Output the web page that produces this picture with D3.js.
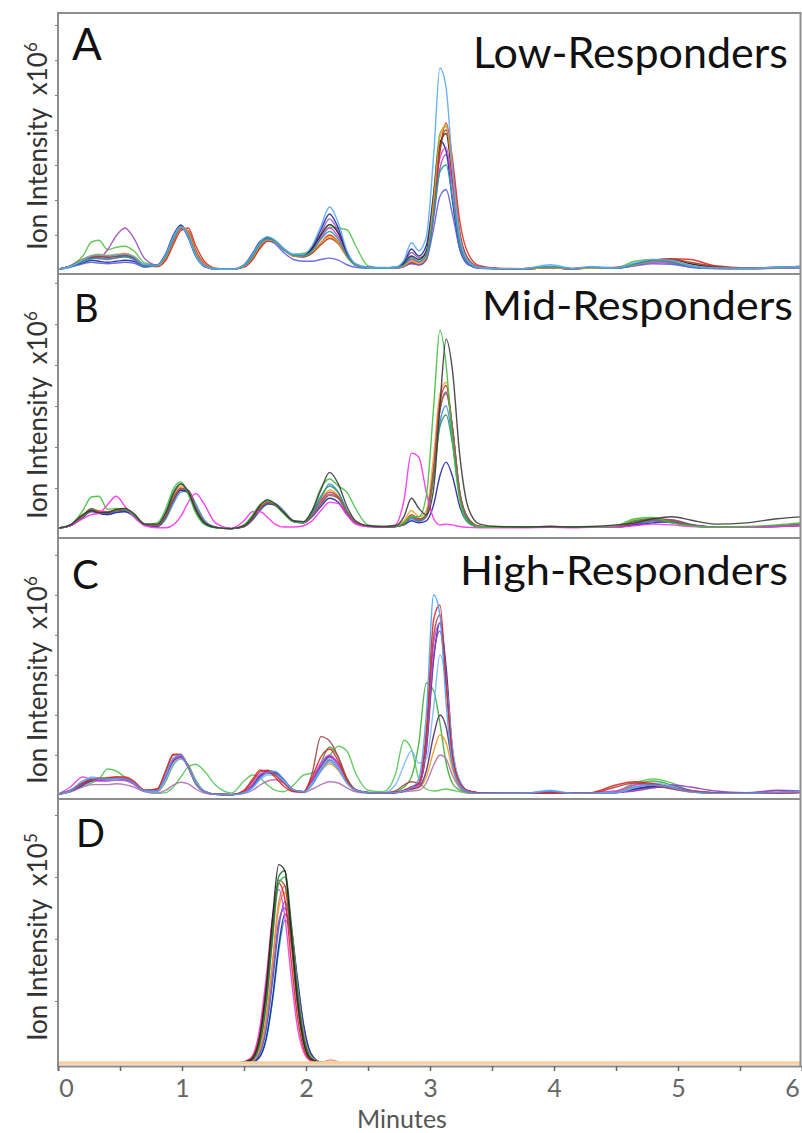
<!DOCTYPE html>
<html>
<head>
<meta charset="utf-8">
<script src="https://cdn.jsdelivr.net/npm/d3@7/dist/d3.min.js"></script>
<style>
 html,body{margin:0;padding:0;background:#fff;}
 svg{display:block;}
 text{font-family:Lato,"Open Sans",sans-serif;}
</style>
</head>
<body>
<svg id="chart" width="802" height="1133"></svg>
<script>
// ---------------- DATA ----------------
const panelLetters = ["A", "B", "C", "D"];
const panelTitles = ["Low-Responders", "Mid-Responders", "High-Responders", ""];
const yLabelText = "Ion Intensity  x10";
const yExponents = ["6", "6", "6", "5"];
const xLabel = "Minutes";
const xTicks = [0, 0.5, 1, 1.5, 2, 2.5, 3, 3.5, 4, 4.5, 5, 5.5, 6];
const xTickLabels = ["0", "", "1", "", "2", "", "3", "", "4", "", "5", "", "6"];

// retention times (minutes) shared by the traces of panels A-C
const timeABC = [0.00,0.10,0.20,0.27,0.33,0.40,0.47,0.54,0.61,0.70,0.80,
 0.87,0.93,0.99,1.05,1.11,1.18,1.27,1.40,
 1.50,1.57,1.63,1.69,1.75,1.82,1.90,1.98,
 2.05,2.12,2.19,2.26,2.33,2.40,2.50,
 2.62,2.72,2.79,2.85,2.91,2.97,3.03,3.08,3.13,3.18,3.24,3.31,3.40,
 3.55,3.75,3.97,4.15,4.30,4.50,4.65,4.80,4.95,5.10,5.30,5.55,5.80,6.00];
// retention times for panel D
const timeD = [0, 1.45, 1.55, 1.62, 1.68, 1.73, 1.78, 1.83, 1.88, 1.93, 1.98, 2.04, 2.12, 2.20, 2.30, 6.0];

// ---- Panel A: Low-Responders (intensity, x10^6 tick units) ----
const A1 = [0.02,0.10,0.28,0.40,0.42,0.40,0.42,0.45,0.38,0.16,0.14,
 0.45,0.95,1.25,0.95,0.42,0.12,0.03,0.02,
 0.15,0.45,0.80,0.95,0.85,0.62,0.45,0.45,
 0.70,1.25,1.80,1.35,0.55,0.18,0.08,
 0.07,0.08,0.28,0.78,0.55,0.95,3.30,5.77,5.20,3.00,0.95,0.25,0.07,
 0.04,0.04,0.15,0.05,0.10,0.06,0.20,0.30,0.28,0.12,0.06,0.05,0.08,0.10];
const A2 = [0.02,0.10,0.25,0.38,0.40,0.38,0.40,0.42,0.35,0.12,0.10,
 0.28,0.72,1.12,1.20,0.70,0.25,0.05,0.02,
 0.08,0.30,0.62,0.82,0.80,0.60,0.40,0.38,
 0.50,0.78,1.00,0.80,0.40,0.15,0.07,
 0.05,0.05,0.10,0.20,0.15,0.30,1.60,3.40,4.20,3.20,1.40,0.45,0.12,
 0.05,0.04,0.06,0.04,0.06,0.08,0.15,0.28,0.32,0.30,0.12,0.06,0.08,0.10];
const A3 = [0.02,0.12,0.40,0.80,0.85,0.58,0.65,0.68,0.55,0.20,0.14,
 0.38,0.88,1.22,1.05,0.50,0.15,0.04,0.02,
 0.10,0.38,0.72,0.88,0.82,0.60,0.45,0.48,
 0.58,0.95,1.22,1.20,1.15,0.70,0.12,
 0.06,0.07,0.15,0.30,0.22,0.45,2.20,3.90,4.10,2.60,0.80,0.20,0.06,
 0.04,0.04,0.08,0.04,0.06,0.06,0.25,0.30,0.20,0.10,0.05,0.05,0.08,0.10];
const A4 = [0.02,0.10,0.25,0.35,0.35,0.58,0.98,1.20,0.92,0.32,0.14,
 0.40,0.90,1.25,0.98,0.45,0.13,0.03,0.02,
 0.12,0.42,0.78,0.90,0.82,0.60,0.42,0.42,
 0.62,1.05,1.46,1.10,0.48,0.15,0.07,
 0.06,0.07,0.20,0.50,0.35,0.45,1.50,2.90,3.30,2.50,1.00,0.30,0.08,
 0.04,0.04,0.06,0.04,0.06,0.06,0.18,0.25,0.22,0.10,0.05,0.04,0.06,0.08];
const A5 = [0.02,0.10,0.20,0.28,0.25,0.22,0.25,0.28,0.25,0.10,0.14,
 0.48,1.00,1.28,0.92,0.40,0.10,0.03,0.02,
 0.15,0.48,0.82,0.92,0.80,0.58,0.42,0.40,
 0.65,1.15,1.60,1.20,0.50,0.15,0.07,
 0.06,0.07,0.22,0.60,0.40,0.70,2.20,3.70,3.40,2.00,0.60,0.15,0.05,
 0.04,0.04,0.06,0.04,0.05,0.05,0.15,0.25,0.25,0.12,0.05,0.04,0.06,0.08];
const A6 = [0.02,0.12,0.30,0.40,0.42,0.40,0.42,0.45,0.38,0.14,0.14,
 0.42,0.92,1.28,1.00,0.45,0.12,0.03,0.02,
 0.12,0.42,0.78,0.92,0.84,0.60,0.42,0.42,
 0.60,1.00,1.30,1.05,0.45,0.15,0.07,
 0.06,0.07,0.18,0.40,0.30,0.55,2.00,3.60,3.90,2.60,0.90,0.25,0.07,
 0.04,0.04,0.06,0.04,0.06,0.06,0.16,0.28,0.30,0.18,0.08,0.05,0.07,0.09];
const A7 = [0.02,0.10,0.28,0.35,0.32,0.30,0.34,0.38,0.30,0.10,0.13,
 0.40,0.90,1.25,1.02,0.48,0.14,0.03,0.02,
 0.10,0.38,0.72,0.88,0.80,0.58,0.40,0.38,
 0.55,0.92,1.20,0.95,0.42,0.14,0.06,
 0.05,0.06,0.14,0.30,0.22,0.40,1.80,3.20,3.50,2.40,0.80,0.20,0.06,
 0.04,0.04,0.05,0.04,0.05,0.05,0.12,0.22,0.18,0.08,0.04,0.04,0.05,0.07];
const A8 = [0.02,0.10,0.26,0.36,0.38,0.36,0.38,0.40,0.34,0.12,0.10,
 0.32,0.80,1.18,1.12,0.58,0.18,0.04,0.02,
 0.08,0.32,0.66,0.85,0.82,0.60,0.40,0.38,
 0.48,0.72,0.90,0.75,0.38,0.14,0.06,
 0.05,0.06,0.10,0.22,0.16,0.30,1.70,3.40,4.00,2.90,1.10,0.30,0.08,
 0.04,0.04,0.05,0.04,0.05,0.06,0.14,0.26,0.30,0.22,0.10,0.05,0.06,0.08];
const A9 = [0.02,0.08,0.18,0.22,0.20,0.18,0.20,0.22,0.20,0.08,0.13,
 0.42,0.92,1.22,0.95,0.42,0.12,0.03,0.02,
 0.10,0.38,0.70,0.85,0.75,0.50,0.30,0.25,
 0.25,0.30,0.34,0.28,0.15,0.08,0.05,
 0.05,0.06,0.10,0.18,0.14,0.30,1.20,2.10,2.30,1.60,0.60,0.15,0.05,
 0.04,0.04,0.05,0.04,0.05,0.05,0.12,0.18,0.16,0.08,0.04,0.04,0.05,0.06];
const A10 = [0.02,0.10,0.30,0.42,0.45,0.42,0.45,0.48,0.40,0.14,0.12,
 0.36,0.85,1.22,1.08,0.52,0.16,0.04,0.02,
 0.10,0.36,0.70,0.86,0.80,0.58,0.40,0.40,
 0.52,0.78,0.95,0.78,0.38,0.14,0.06,
 0.05,0.06,0.12,0.25,0.18,0.38,2.00,3.80,4.15,2.80,0.95,0.25,0.07,
 0.04,0.04,0.06,0.04,0.05,0.06,0.14,0.25,0.24,0.12,0.05,0.04,0.06,0.08];
const A11 = [0.02,0.10,0.24,0.32,0.34,0.32,0.35,0.38,0.32,0.12,0.13,
 0.40,0.88,1.24,1.00,0.46,0.13,0.03,0.02,
 0.12,0.40,0.75,0.90,0.82,0.58,0.42,0.40,
 0.55,0.88,1.10,0.88,0.40,0.14,0.06,
 0.05,0.06,0.15,0.35,0.25,0.42,1.60,2.80,3.00,2.10,0.75,0.20,0.06,
 0.04,0.04,0.10,0.04,0.08,0.05,0.16,0.26,0.22,0.10,0.05,0.04,0.07,0.09];
const seriesA = [A2, A3, A4, A5, A6, A7, A8, A9, A10, A11, A1];
const colorsA = ["#e8271f", "#55c24a", "#9b4fb8", "#1f2a9e", "#222222", "#e040d8", "#a33a2a", "#5d5fe0", "#f0a020", "#1aa0a0", "#5aaaf5"];

// ---- Panel B: Mid-Responders ----
const B1 = [0.02,0.10,0.45,0.78,0.80,0.48,0.50,0.48,0.35,0.12,0.15,
 0.50,0.98,1.15,0.85,0.40,0.12,0.03,0.01,
 0.10,0.35,0.60,0.71,0.60,0.38,0.18,0.16,
 0.45,1.00,1.22,1.05,0.90,0.50,0.10,
 0.06,0.07,0.15,0.30,0.30,0.80,3.00,4.85,4.00,2.20,0.70,0.15,0.05,
 0.04,0.04,0.06,0.05,0.05,0.08,0.25,0.28,0.15,0.08,0.05,0.06,0.10,0.15];
const B2 = [0.02,0.10,0.35,0.45,0.40,0.40,0.48,0.50,0.38,0.12,0.12,
 0.40,0.85,1.10,0.92,0.48,0.15,0.04,0.01,
 0.08,0.30,0.58,0.71,0.62,0.40,0.20,0.18,
 0.45,0.95,1.38,1.10,0.55,0.20,0.08,
 0.06,0.08,0.30,0.75,0.50,0.35,1.00,3.00,4.63,3.90,1.80,0.50,0.12,
 0.06,0.05,0.06,0.05,0.06,0.10,0.15,0.25,0.30,0.22,0.12,0.15,0.25,0.30];
const B3 = [0.02,0.10,0.35,0.50,0.42,0.40,0.46,0.48,0.36,0.12,0.10,
 0.38,0.82,1.05,0.90,0.48,0.15,0.04,0.01,
 0.08,0.30,0.55,0.66,0.58,0.38,0.18,0.16,
 0.40,0.72,0.95,0.80,0.40,0.15,0.07,
 0.05,0.07,0.20,0.45,0.30,0.45,1.80,3.30,3.58,2.40,0.80,0.20,0.06,
 0.04,0.04,0.06,0.04,0.05,0.07,0.22,0.25,0.18,0.10,0.05,0.05,0.08,0.12];
const B4 = [0.02,0.10,0.32,0.48,0.44,0.42,0.46,0.46,0.35,0.12,0.08,
 0.32,0.75,1.00,0.92,0.52,0.17,0.04,0.01,
 0.08,0.28,0.52,0.64,0.60,0.40,0.18,0.16,
 0.38,0.68,0.90,0.78,0.40,0.15,0.07,
 0.05,0.06,0.15,0.35,0.25,0.35,1.50,3.10,3.50,2.50,0.90,0.25,0.06,
 0.04,0.04,0.05,0.04,0.05,0.06,0.18,0.25,0.22,0.10,0.05,0.05,0.07,0.10];
const B5 = [0.02,0.08,0.30,0.42,0.40,0.38,0.42,0.44,0.34,0.10,0.08,
 0.30,0.70,0.95,0.90,0.52,0.17,0.04,0.01,
 0.06,0.25,0.50,0.62,0.58,0.40,0.18,0.15,
 0.35,0.62,0.85,0.75,0.40,0.15,0.07,
 0.05,0.06,0.12,0.28,0.20,0.30,1.40,2.90,3.34,2.50,0.90,0.25,0.06,
 0.04,0.04,0.05,0.04,0.05,0.05,0.12,0.20,0.22,0.12,0.05,0.05,0.07,0.10];
const B6 = [0.02,0.08,0.25,0.35,0.38,0.60,0.80,0.55,0.30,0.08,0.03,
 0.03,0.10,0.30,0.65,0.87,0.60,0.15,0.02,
 0.20,0.42,0.42,0.28,0.12,0.05,0.05,0.08,
 0.20,0.45,0.65,0.62,0.35,0.12,0.06,
 0.05,0.10,0.70,1.85,1.75,0.90,0.25,0.10,0.12,0.10,0.06,0.04,0.03,
 0.03,0.03,0.04,0.03,0.04,0.04,0.08,0.12,0.10,0.06,0.04,0.04,0.06,0.08];
const B7 = [0.02,0.08,0.30,0.50,0.40,0.35,0.42,0.45,0.32,0.10,0.06,
 0.25,0.62,0.90,0.93,0.62,0.22,0.05,0.01,
 0.06,0.22,0.45,0.60,0.62,0.45,0.20,0.16,
 0.38,0.75,1.10,0.90,0.45,0.16,0.07,
 0.05,0.06,0.12,0.25,0.18,0.30,1.30,2.60,3.00,2.20,0.80,0.20,0.05,
 0.04,0.04,0.05,0.04,0.05,0.05,0.10,0.18,0.15,0.08,0.05,0.05,0.06,0.10];
const B8 = [0.02,0.08,0.28,0.45,0.38,0.35,0.40,0.42,0.32,0.10,0.06,
 0.30,0.70,0.95,0.88,0.50,0.16,0.04,0.01,
 0.06,0.24,0.48,0.62,0.58,0.40,0.18,0.15,
 0.30,0.55,0.75,0.65,0.35,0.14,0.06,
 0.05,0.06,0.10,0.20,0.15,0.20,0.60,1.30,1.63,1.30,0.55,0.15,0.05,
 0.04,0.04,0.05,0.04,0.05,0.05,0.10,0.15,0.18,0.10,0.05,0.05,0.06,0.08];
const B9 = [0.02,0.10,0.30,0.45,0.40,0.40,0.45,0.46,0.35,0.12,0.10,
 0.42,0.90,1.10,0.88,0.42,0.12,0.03,0.01,
 0.08,0.32,0.58,0.68,0.60,0.38,0.18,0.16,
 0.42,0.80,1.05,0.88,0.45,0.15,0.07,
 0.05,0.06,0.15,0.32,0.22,0.35,1.30,2.50,2.78,2.10,0.80,0.20,0.06,
 0.04,0.04,0.06,0.04,0.05,0.06,0.20,0.24,0.16,0.08,0.05,0.05,0.08,0.12];
const B10 = [0.02,0.09,0.32,0.48,0.42,0.40,0.45,0.46,0.35,0.12,0.08,
 0.30,0.72,0.98,0.95,0.55,0.18,0.04,0.01,
 0.06,0.25,0.50,0.64,0.60,0.42,0.20,0.16,
 0.32,0.60,0.82,0.75,0.42,0.16,0.07,
 0.05,0.06,0.12,0.30,0.22,0.32,1.40,2.90,3.30,2.50,0.90,0.25,0.06,
 0.04,0.04,0.05,0.04,0.05,0.06,0.14,0.22,0.20,0.10,0.05,0.05,0.07,0.10];
const seriesB = [B3, B4, B5, B7, B8, B9, B10, B6, B1, B2];
const colorsB = ["#f5a030", "#d62b2b", "#7e4fb5", "#3a8ae6", "#2424a8", "#2e9a5e", "#a0603a", "#ff30f0", "#3fbf3f", "#3a3a3a"];

// ---- Panel C: High-Responders ----
const C1 = [0.02,0.12,0.35,0.42,0.40,0.40,0.42,0.40,0.30,0.10,0.10,
 0.50,0.92,1.00,0.70,0.30,0.08,0.02,0.01,
 0.05,0.20,0.42,0.56,0.58,0.40,0.12,0.08,
 0.25,0.60,0.83,0.65,0.30,0.12,0.06,
 0.05,0.06,0.10,0.18,0.40,2.00,5.00,4.50,2.30,0.80,0.25,0.08,0.04,
 0.04,0.04,0.10,0.04,0.05,0.06,0.20,0.25,0.18,0.08,0.04,0.04,0.06,0.08];
const C2 = [0.02,0.10,0.30,0.45,0.42,0.38,0.40,0.42,0.32,0.10,0.08,
 0.40,0.78,0.90,0.72,0.35,0.10,0.02,0.01,
 0.05,0.18,0.38,0.50,0.50,0.35,0.12,0.08,
 0.30,0.65,0.90,0.70,0.32,0.12,0.06,
 0.05,0.25,0.75,1.10,0.80,0.90,2.20,3.50,2.80,1.20,0.35,0.10,0.04,
 0.04,0.04,0.12,0.04,0.05,0.06,0.18,0.30,0.22,0.10,0.05,0.04,0.06,0.08];
const C3 = [0.02,0.12,0.30,0.38,0.40,0.42,0.45,0.45,0.35,0.12,0.15,
 0.60,1.00,1.02,0.70,0.30,0.08,0.02,0.01,
 0.12,0.40,0.62,0.60,0.45,0.22,0.08,0.08,
 0.45,0.95,1.15,0.85,0.38,0.12,0.06,
 0.05,0.06,0.12,0.20,0.30,1.60,4.40,4.75,2.80,1.00,0.30,0.10,0.05,
 0.04,0.04,0.06,0.04,0.06,0.25,0.33,0.28,0.18,0.10,0.05,0.04,0.05,0.06];
const C4 = [0.02,0.10,0.28,0.36,0.38,0.38,0.40,0.40,0.30,0.10,0.10,
 0.48,0.88,0.95,0.72,0.32,0.09,0.02,0.01,
 0.06,0.22,0.45,0.55,0.52,0.35,0.12,0.08,
 0.35,0.72,0.95,0.75,0.35,0.12,0.06,
 0.05,0.06,0.10,0.18,0.25,1.20,3.50,4.10,2.90,1.10,0.30,0.10,0.05,
 0.04,0.04,0.05,0.04,0.05,0.06,0.10,0.18,0.25,0.20,0.10,0.06,0.12,0.10];
const C5 = [0.02,0.08,0.22,0.30,0.40,0.65,0.60,0.45,0.30,0.10,0.04,
 0.06,0.20,0.45,0.70,0.77,0.60,0.25,0.05,
 0.35,0.50,0.42,0.25,0.12,0.08,0.25,0.50,
 0.55,0.70,0.98,1.22,1.10,0.55,0.12,
 0.08,0.50,1.37,1.15,0.40,0.15,0.10,0.12,0.15,0.12,0.08,0.05,0.04,
 0.04,0.04,0.05,0.04,0.05,0.10,0.30,0.40,0.30,0.12,0.06,0.05,0.06,0.08];
const C6 = [0.02,0.10,0.30,0.40,0.38,0.40,0.42,0.40,0.30,0.10,0.08,
 0.35,0.75,0.90,0.75,0.38,0.10,0.02,0.01,
 0.06,0.22,0.45,0.55,0.52,0.35,0.12,0.08,
 0.35,0.80,1.20,0.95,0.42,0.14,0.07,
 0.05,0.08,0.20,0.45,1.30,2.80,2.60,1.80,0.80,0.30,0.12,0.05,0.04,
 0.04,0.04,0.05,0.04,0.05,0.08,0.25,0.35,0.25,0.10,0.05,0.04,0.06,0.08];
const C7 = [0.02,0.10,0.28,0.36,0.36,0.36,0.38,0.38,0.30,0.10,0.10,
 0.45,0.85,0.95,0.72,0.32,0.09,0.02,0.01,
 0.06,0.22,0.45,0.58,0.56,0.38,0.12,0.08,
 0.30,0.65,0.88,0.70,0.32,0.12,0.06,
 0.05,0.06,0.10,0.15,0.20,0.60,1.50,2.00,1.70,0.80,0.25,0.08,0.04,
 0.04,0.04,0.05,0.04,0.05,0.06,0.15,0.20,0.18,0.10,0.05,0.04,0.06,0.08];
const C8 = [0.02,0.10,0.30,0.40,0.42,0.44,0.46,0.42,0.30,0.10,0.08,
 0.40,0.80,0.92,0.75,0.35,0.10,0.02,0.01,
 0.06,0.25,0.48,0.58,0.55,0.38,0.12,0.08,
 0.28,0.60,0.78,0.62,0.30,0.12,0.06,
 0.05,0.06,0.10,0.15,0.18,0.45,1.10,1.50,1.30,0.65,0.20,0.07,0.04,
 0.04,0.04,0.05,0.04,0.05,0.08,0.20,0.25,0.18,0.08,0.04,0.04,0.05,0.07];
const C9 = [0.02,0.12,0.30,0.40,0.42,0.42,0.44,0.42,0.32,0.12,0.15,
 0.62,1.02,1.00,0.68,0.28,0.08,0.02,0.01,
 0.10,0.35,0.58,0.62,0.50,0.30,0.10,0.08,
 0.55,1.46,1.35,0.95,0.40,0.13,0.06,
 0.05,0.10,0.25,0.33,0.30,1.40,4.00,4.50,2.80,1.00,0.30,0.10,0.05,
 0.04,0.04,0.05,0.04,0.05,0.20,0.30,0.25,0.15,0.08,0.05,0.04,0.05,0.06];
const C10 = [0.02,0.08,0.20,0.26,0.26,0.26,0.28,0.26,0.20,0.08,0.05,
 0.12,0.25,0.32,0.28,0.15,0.05,0.02,0.01,
 0.04,0.12,0.25,0.35,0.38,0.30,0.10,0.06,
 0.15,0.26,0.33,0.30,0.18,0.08,0.05,
 0.05,0.06,0.08,0.10,0.12,0.30,0.75,1.00,0.90,0.50,0.18,0.06,0.04,
 0.04,0.04,0.05,0.04,0.05,0.06,0.12,0.18,0.22,0.12,0.06,0.04,0.10,0.08];
const C11 = [0.02,0.20,0.45,0.38,0.35,0.35,0.38,0.36,0.28,0.10,0.10,
 0.50,0.90,0.98,0.70,0.30,0.08,0.02,0.01,
 0.08,0.30,0.52,0.58,0.52,0.32,0.10,0.08,
 0.40,0.80,1.00,0.78,0.35,0.12,0.06,
 0.05,0.06,0.10,0.18,0.25,1.30,3.80,4.30,2.90,1.00,0.30,0.10,0.05,
 0.04,0.04,0.05,0.04,0.05,0.10,0.25,0.28,0.20,0.10,0.05,0.04,0.05,0.07];
const C12 = [0.02,0.10,0.25,0.35,0.38,0.38,0.40,0.38,0.28,0.10,0.10,
 0.45,0.88,0.98,0.72,0.32,0.09,0.02,0.01,
 0.06,0.24,0.48,0.60,0.58,0.38,0.12,0.08,
 0.35,0.72,0.98,0.78,0.36,0.12,0.06,
 0.05,0.06,0.10,0.20,0.28,1.10,3.40,4.30,3.20,1.20,0.35,0.10,0.05,
 0.04,0.04,0.08,0.04,0.05,0.06,0.15,0.22,0.22,0.10,0.05,0.04,0.05,0.07];
const seriesC = [C6, C5, C8, C10, C7, C12, C4, C11, C2, C9, C3, C1];
const colorsC = ["#3aae3a", "#55c855", "#f09a20", "#b070b0", "#5a2a6a", "#2030a0", "#9040c0", "#e040e0", "#7ab8ff", "#a04848", "#e02424", "#4aa0f5"];

// ---- Panel D (x10^5 tick units) ----
const D0 = [0,0,0,0,0,0,0,0,0,0,0,0,0,0,0,0];
const D1 = [0,0,0.04,0.35,1.22,2.34,3.20,3.10,2.11,1.02,0.35,0.06,0.01,0,0,0];
const D2 = [0,0,0.03,0.25,0.96,1.98,2.90,3.00,2.19,1.14,0.42,0.08,0,0,0,0];
const D3 = [0,0,0.02,0.18,0.72,1.58,2.50,2.75,2.17,1.20,0.47,0.10,0.01,0,0,0];
const D4 = [0,0,0.02,0.16,0.66,1.44,2.28,2.50,1.97,1.09,0.43,0.09,0.01,0,0,0];
const D5 = [0,0,0,0.08,0.39,1.00,1.81,2.30,2.09,1.32,0.60,0.15,0.01,0,0,0];
const D6 = [0,0,0.06,0.40,1.26,2.29,2.90,2.64,1.67,0.76,0.24,0.04,0,0,0,0];
const D7 = [0,0,0.07,0.48,1.40,2.35,2.80,2.35,1.40,0.59,0.18,0.03,0,0,0,0];
const D8 = [0,0,0,0.12,0.55,1.30,2.18,2.60,2.18,1.30,0.55,0.12,0.01,0,0,0];
const D9 = [0,0,0.04,0.32,1.12,2.16,2.95,2.86,1.95,0.94,0.32,0.06,0.01,0,0,0];
const D10 = [0,0,0,0.08,0.41,1.04,1.89,2.40,2.18,1.38,0.63,0.15,0.01,0,0,0];
const D11 = [0,0,0.03,0.26,0.99,2.05,3.01,3.10,2.27,1.18,0.43,0.08,0,0,0,0];
const D12 = [0,0,0.02,0.18,0.75,1.64,2.59,2.85,2.25,1.24,0.49,0.10,0.01,0.05,0,0];
const seriesD = [D5, D10, D8, D4, D3, D12, D7, D6, D9, D2, D11, D1, D0];
const colorsD = ["#17a2b8", "#202890", "#3060e0", "#8e44ad", "#f39c12", "#f08060", "#e83ee8", "#e02020", "#a05030", "#3cb043", "#1e7a3a", "#222222", "#f8cfa0"];

// ---------------- DRAWING ----------------
const svg = d3.select("#chart");
const x = d3.scaleLinear().domain([0, 6]).range([58, 802]);
const frameColor = "#8d8d8d";

const layout = [
  {top: 13,  bottom: 274,  base: 270,  ppu: 35,   letter: {x: 72, y: 60,  size: 44}, title: {x: 788, y: 68,  size: 42, len: 315}, ycy: 146},
  {top: 274, bottom: 538,  base: 529,  ppu: 41,   letter: {x: 74, y: 322, size: 38}, title: {x: 793, y: 320, size: 40, len: 311}, ycy: 415},
  {top: 538, bottom: 799,  base: 795,  ppu: 40,   letter: {x: 72, y: 589, size: 40}, title: {x: 788, y: 585, size: 41, len: 328}, ycy: 680},
  {top: 799, bottom: 1066, base: 1063, ppu: 62,   letter: {x: 76, y: 847, size: 38}, title: null, ycy: 937}
];
const panelData = [
  {times: timeABC, series: seriesA, colors: colorsA},
  {times: timeABC, series: seriesB, colors: colorsB},
  {times: timeABC, series: seriesC, colors: colorsC},
  {times: timeD,   series: seriesD, colors: colorsD}
];

const defs = svg.append("defs");

layout.forEach((L, i) => {
  const P = panelData[i];
  const yMax = (L.base - L.top) / L.ppu;
  const y = d3.scaleLinear().domain([0, yMax]).range([L.base, L.top]);

  defs.append("clipPath").attr("id", "clip" + i)
    .append("rect").attr("x", 59).attr("y", L.top + 1).attr("width", 741).attr("height", L.bottom - L.top - 2);

  // y ticks (unlabelled)
  const yAxis = d3.axisLeft(y).tickValues(d3.range(1, Math.floor(yMax) + 1)).tickSize(3).tickFormat("");
  const ga = svg.append("g").attr("transform", "translate(58,0)").call(yAxis);
  ga.select(".domain").remove();
  ga.selectAll("line").attr("stroke", "#777");

  const line = d3.line().x((d) => x(d[0])).y((d) => y(d[1])).curve(d3.curveMonotoneX);
  const g = svg.append("g").attr("clip-path", `url(#clip${i})`);
  P.series.forEach((vals, k) => {
    if (vals.length !== P.times.length) throw new Error(`panel ${i} series ${k} has ${vals.length} values`);
    const pts = P.times.map((t, j) => [t, vals[j]]);
    const isBase = (i === 3 && k === P.series.length - 1);
    g.append("path").attr("d", line(pts))
      .attr("fill", "none")
      .attr("stroke", P.colors[k])
      .attr("stroke-width", isBase ? 3.5 : 1.4)
      .attr("stroke-opacity", isBase ? 1 : 0.9)
      .attr("stroke-linejoin", "round");
  });

  // letter
  svg.append("text").attr("x", L.letter.x).attr("y", L.letter.y)
    .style("font-size", L.letter.size + "px").style("fill", "#111").text(panelLetters[i]);
  // title
  if (L.title) {
    svg.append("text").attr("x", L.title.x).attr("y", L.title.y).attr("text-anchor", "end")
      .attr("textLength", L.title.len).attr("lengthAdjust", "spacingAndGlyphs")
      .style("font-size", L.title.size + "px").style("fill", "#111").text(panelTitles[i]);
  }
  // y label
  const yl = svg.append("text").attr("transform", `translate(47,${L.ycy}) rotate(-90)`)
    .attr("text-anchor", "middle").style("font-size", "26px").style("fill", "#333")
    .style("white-space", "pre");
  yl.append("tspan").text(yLabelText);
  yl.append("tspan").attr("dy", -10).style("font-size", "17px").text(yExponents[i]);
});

// frame lines
const hLines = [13, 274, 538, 799];
hLines.forEach((yy) => {
  svg.append("line").attr("x1", 58).attr("x2", 801).attr("y1", yy).attr("y2", yy)
    .attr("stroke", frameColor).attr("stroke-width", 2);
});
svg.append("line").attr("x1", 58).attr("x2", 58).attr("y1", 12).attr("y2", 1067)
  .attr("stroke", frameColor).attr("stroke-width", 2);
svg.append("line").attr("x1", 800.5).attr("x2", 800.5).attr("y1", 12).attr("y2", 1067)
  .attr("stroke", frameColor).attr("stroke-width", 2);

// x axis
const xAxis = d3.axisBottom(x).tickValues(xTicks).tickSize(5).tickPadding(8)
  .tickFormat((d, j) => xTickLabels[j]);
const gx = svg.append("g").attr("transform", "translate(0,1066)").call(xAxis);
gx.select(".domain").attr("stroke", frameColor).attr("stroke-width", 2);
gx.selectAll("line").attr("stroke", "#666").attr("stroke-width", 1.5);
gx.selectAll("text").style("font-size", "25px").style("fill", "#666").style("font-family", "Lato, sans-serif")
  .attr("dx", (d) => (d === 0 ? 8 : d === 6 ? -10 : 0));

svg.append("text").attr("x", 402).attr("y", 1128).attr("text-anchor", "middle")
  .style("font-size", "25px").style("fill", "#555").text(xLabel);
</script>
</body>
</html>
